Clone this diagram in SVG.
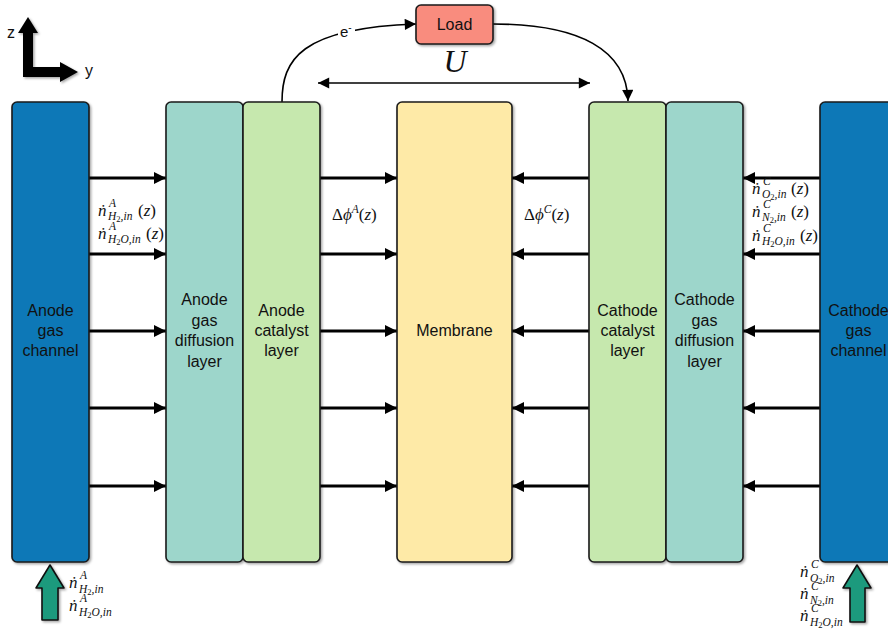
<svg xmlns="http://www.w3.org/2000/svg" width="888" height="630" viewBox="0 0 888 630">
<style>
.box{stroke:#1a1a1a;stroke-width:1.6}
.lbl{font-family:"Liberation Sans",Arial,sans-serif;font-size:16px;fill:#111;text-anchor:middle}
.m{font-family:"Liberation Serif","DejaVu Serif",serif;font-style:italic;fill:#111}
.big{font-size:17px}
.sm{font-size:11.5px}
.tiny{font-size:8.5px;font-style:normal}
.up{font-style:normal}
.arr{stroke:#000;stroke-width:3;fill:none;marker-end:url(#ah)}
.thin{stroke:#000;stroke-width:1.6;fill:none}
</style>
<defs>
<marker id="ah" viewBox="0 0 10 10" refX="10" refY="5" markerWidth="5" markerHeight="4" markerUnits="strokeWidth" orient="auto">
<path d="M0,0 L10,5 L0,10 z" fill="#000"/>
</marker>
<marker id="ah2" viewBox="0 0 10 10" refX="10" refY="5" markerWidth="10" markerHeight="7" markerUnits="strokeWidth" orient="auto-start-reverse">
<path d="M0,0 L10,5 L0,10 z" fill="#000"/>
</marker>
<filter id="sh" x="-10%" y="-10%" width="130%" height="130%">
<feDropShadow dx="1.5" dy="1.5" stdDeviation="1.2" flood-color="#000" flood-opacity="0.35"/>
</filter>
</defs>
<rect width="888" height="630" fill="#fff"/>

<g id="axes" filter="url(#sh)">
<path d="M23,33 L18,33 L28,17 L38,33 L33,33 L33,67 L60,67 L60,62 L78,72 L60,82 L60,77 L23,77 Z" fill="#000"/>
</g>
<text x="7" y="38" class="lbl" style="text-anchor:start">z</text>
<text x="85" y="76" class="lbl" style="text-anchor:start">y</text>

<g id="connectors">
<line class="arr" x1="89" y1="178" x2="166" y2="178"/>
<line class="arr" x1="89" y1="254" x2="166" y2="254"/>
<line class="arr" x1="89" y1="331" x2="166" y2="331"/>
<line class="arr" x1="89" y1="408" x2="166" y2="408"/>
<line class="arr" x1="89" y1="486" x2="166" y2="486"/>
<line class="arr" x1="320" y1="178" x2="397" y2="178"/>
<line class="arr" x1="320" y1="254" x2="397" y2="254"/>
<line class="arr" x1="320" y1="331" x2="397" y2="331"/>
<line class="arr" x1="320" y1="408" x2="397" y2="408"/>
<line class="arr" x1="320" y1="486" x2="397" y2="486"/>
<line class="arr" x1="589" y1="178" x2="512" y2="178"/>
<line class="arr" x1="589" y1="254" x2="512" y2="254"/>
<line class="arr" x1="589" y1="331" x2="512" y2="331"/>
<line class="arr" x1="589" y1="408" x2="512" y2="408"/>
<line class="arr" x1="589" y1="486" x2="512" y2="486"/>
<line class="arr" x1="820" y1="178" x2="743" y2="178"/>
<line class="arr" x1="820" y1="254" x2="743" y2="254"/>
<line class="arr" x1="820" y1="331" x2="743" y2="331"/>
<line class="arr" x1="820" y1="408" x2="743" y2="408"/>
<line class="arr" x1="820" y1="486" x2="743" y2="486"/>
<path class="thin" marker-end="url(#ah2)" d="M282,102 C282,60 300,28 416,24"/>
<path class="thin" marker-end="url(#ah2)" d="M493,24 C580,24 627,50 628,101"/>
<line class="thin" marker-start="url(#ah2)" marker-end="url(#ah2)" x1="318" y1="83" x2="590" y2="83"/>
</g>
<rect x="338" y="23" width="17" height="16" fill="#fff"/>
<text x="340" y="37" class="lbl" style="text-anchor:start;font-size:15px">e<tspan dy="-6" font-size="10">-</tspan></text>
<text x="455" y="72" class="m" style="font-size:32px;text-anchor:middle">U</text>

<g id="anode-gas-channel">
<rect class="box" x="12" y="102" width="77" height="460" rx="5" fill="#0f78b7" filter="url(#sh)"/>
<text class="lbl" x="50.5" y="316">Anode</text>
<text class="lbl" x="50.5" y="336">gas</text>
<text class="lbl" x="50.5" y="356">channel</text>
</g>
<g id="anode-gdl">
<rect class="box" x="166" y="102" width="77" height="460" rx="5" fill="#9dd6cb" filter="url(#sh)"/>
<text class="lbl" x="204.5" y="305">Anode</text>
<text class="lbl" x="204.5" y="326">gas</text>
<text class="lbl" x="204.5" y="346">diffusion</text>
<text class="lbl" x="204.5" y="367">layer</text>
</g>
<g id="anode-catalyst">
<rect class="box" x="243" y="102" width="77" height="460" rx="5" fill="#c6e8ae" filter="url(#sh)"/>
<text class="lbl" x="281.5" y="316">Anode</text>
<text class="lbl" x="281.5" y="336">catalyst</text>
<text class="lbl" x="281.5" y="356">layer</text>
</g>
<g id="membrane">
<rect class="box" x="397" y="102" width="115" height="460" rx="5" fill="#feeaa7" filter="url(#sh)"/>
<text class="lbl" x="454.5" y="336">Membrane</text>
</g>
<g id="cathode-catalyst">
<rect class="box" x="589" y="102" width="77" height="460" rx="5" fill="#c6e8ae" filter="url(#sh)"/>
<text class="lbl" x="627.5" y="316">Cathode</text>
<text class="lbl" x="627.5" y="336">catalyst</text>
<text class="lbl" x="627.5" y="356">layer</text>
</g>
<g id="cathode-gdl">
<rect class="box" x="666" y="102" width="77" height="460" rx="5" fill="#9dd6cb" filter="url(#sh)"/>
<text class="lbl" x="704.5" y="305">Cathode</text>
<text class="lbl" x="704.5" y="326">gas</text>
<text class="lbl" x="704.5" y="346">diffusion</text>
<text class="lbl" x="704.5" y="367">layer</text>
</g>
<g id="cathode-gas-channel">
<rect class="box" x="820" y="102" width="77" height="460" rx="5" fill="#0f78b7" filter="url(#sh)"/>
<text class="lbl" x="858.5" y="316">Cathode</text>
<text class="lbl" x="858.5" y="336">gas</text>
<text class="lbl" x="858.5" y="356">channel</text>
</g>
<g id="load">
<rect class="box" x="416" y="5" width="77" height="39" rx="5" fill="#f98c7e" filter="url(#sh)"/>
<text class="lbl" x="454.5" y="30">Load</text>
</g>

<g id="anode-inlet">
<path d="M42,620 L42,588 L36,588 L50,565 L64,588 L58,588 L58,620 Z" fill="#1d9a7d" stroke="#111" stroke-width="1.6" stroke-linejoin="round" filter="url(#sh)"/>
</g>
<g id="cathode-inlet">
<path d="M850,622 L850,588 L843,588 L857,565 L871,588 L865,588 L865,622 Z" fill="#1d9a7d" stroke="#111" stroke-width="1.6" stroke-linejoin="round" filter="url(#sh)"/>
</g>

<g id="anode-flux-label">
<text class="m big" x="98" y="216">ṅ</text><text class="m sm" x="109" y="207">A</text><text class="m sm" x="108" y="220">H<tspan class="tiny" dy="2">2</tspan><tspan dy="-2">,in</tspan></text><text class="m big" x="138" y="216"><tspan class="up">(</tspan>z<tspan class="up">)</tspan></text>
<text class="m big" x="98" y="239">ṅ</text><text class="m sm" x="109" y="230">A</text><text class="m sm" x="108" y="243">H<tspan class="tiny" dy="2">2</tspan><tspan dy="-2">O,in</tspan></text><text class="m big" x="146" y="239"><tspan class="up">(</tspan>z<tspan class="up">)</tspan></text>
</g>
<g id="cathode-flux-label">
<text class="m big" x="752" y="194">ṅ</text><text class="m sm" x="763" y="185">C</text><text class="m sm" x="762" y="198">O<tspan class="tiny" dy="2">2</tspan><tspan dy="-2">,in</tspan></text><text class="m big" x="791" y="194"><tspan class="up">(</tspan>z<tspan class="up">)</tspan></text>
<text class="m big" x="752" y="217">ṅ</text><text class="m sm" x="763" y="208">C</text><text class="m sm" x="762" y="221">N<tspan class="tiny" dy="2">2</tspan><tspan dy="-2">,in</tspan></text><text class="m big" x="791" y="217"><tspan class="up">(</tspan>z<tspan class="up">)</tspan></text>
<text class="m big" x="752" y="241">ṅ</text><text class="m sm" x="763" y="232">C</text><text class="m sm" x="762" y="245">H<tspan class="tiny" dy="2">2</tspan><tspan dy="-2">O,in</tspan></text><text class="m big" x="800" y="241"><tspan class="up">(</tspan>z<tspan class="up">)</tspan></text>
</g>
<g id="potential-labels">
<text class="m big" x="332" y="220"><tspan class="up">Δ</tspan>ϕ<tspan class="sm" dy="-7">A</tspan><tspan dy="7" class="up">(</tspan>z<tspan class="up">)</tspan></text>
<text class="m big" x="524" y="220"><tspan class="up">Δ</tspan>ϕ<tspan class="sm" dy="-7">C</tspan><tspan dy="7" class="up">(</tspan>z<tspan class="up">)</tspan></text>
</g>
<g id="anode-inlet-label">
<text class="m big" x="69" y="588">ṅ</text><text class="m sm" x="80" y="579">A</text><text class="m sm" x="79" y="593">H<tspan class="tiny" dy="2">2</tspan><tspan dy="-2">,in</tspan></text>
<text class="m big" x="69" y="611">ṅ</text><text class="m sm" x="80" y="602">A</text><text class="m sm" x="79" y="616">H<tspan class="tiny" dy="2">2</tspan><tspan dy="-2">O,in</tspan></text>
</g>
<g id="cathode-inlet-label">
<text class="m big" x="800" y="577">ṅ</text><text class="m sm" x="811" y="568">C</text><text class="m sm" x="810" y="582">O<tspan class="tiny" dy="2">2</tspan><tspan dy="-2">,in</tspan></text>
<text class="m big" x="800" y="599">ṅ</text><text class="m sm" x="811" y="590">C</text><text class="m sm" x="810" y="604">N<tspan class="tiny" dy="2">2</tspan><tspan dy="-2">,in</tspan></text>
<text class="m big" x="800" y="621">ṅ</text><text class="m sm" x="811" y="612">C</text><text class="m sm" x="810" y="626">H<tspan class="tiny" dy="2">2</tspan><tspan dy="-2">O,in</tspan></text>
</g>
</svg>
